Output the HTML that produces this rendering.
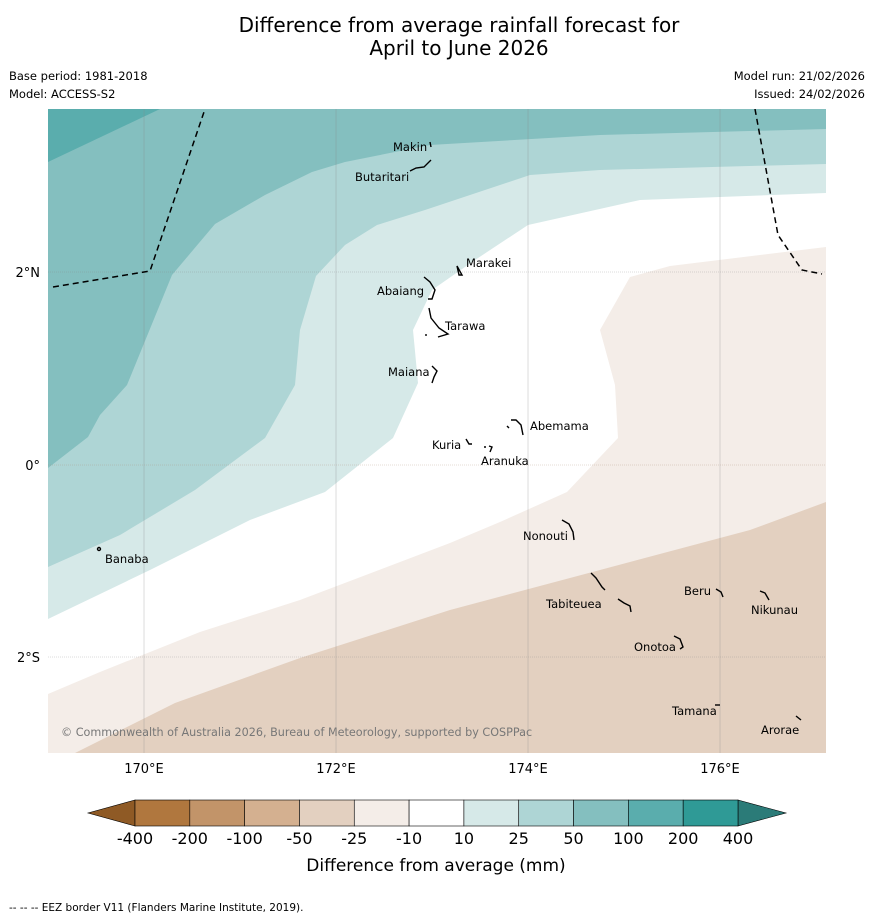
<!DOCTYPE html>
<html><head><meta charset="utf-8"><style>
body{margin:0;background:#fff;width:873px;height:919px;overflow:hidden;font-family:"DejaVu Sans","Liberation Sans",sans-serif}
svg text{font-family:"DejaVu Sans","Liberation Sans",sans-serif}
</style></head><body>
<svg id="s" width="873" height="919">
<text x="459" y="32" font-size="20" text-anchor="middle">Difference from average rainfall forecast for</text>
<text x="459" y="55" font-size="20" text-anchor="middle">April to June 2026</text>
<g font-size="11.5">
<text x="9" y="80">Base period: 1981-2018</text>
<text x="9" y="98">Model: ACCESS-S2</text>
<text x="865" y="80" text-anchor="end">Model run: 21/02/2026</text>
<text x="865" y="98" text-anchor="end">Issued: 24/02/2026</text>
</g>
<defs><clipPath id="mc"><rect x="48" y="109" width="778" height="644"/></clipPath></defs>
<g clip-path="url(#mc)">
<rect x="48" y="109" width="778" height="644" fill="#e3d0c0"/>
<polygon fill="#f4ede8" points="0,109 900,109 900,480 826,502 750,530 600,570 450,610 300,658 175,703 75,753 0,800"/>
<polygon fill="#ffffff" points="0,109 900,109 900,245 826,247 670,266 630,277 600,330 615,385 618,438 567,492 500,522 450,543 300,600 200,632 100,672 48,694 0,712"/>
<polygon fill="#d6e9e8" points="0,109 900,109 900,192 826,193 640,200 528,225 475,260 432,290 413,330 418,383 393,438 325,492 250,520 150,570 48,619 0,640"/>
<polygon fill="#aed5d5" points="0,109 900,109 900,163 826,164 600,170 530,175 425,210 377,225 345,245 316,276 300,330 295,385 265,438 195,490 120,535 48,567 0,590"/>
<polygon fill="#84bfbf" points="0,109 900,109 900,128 826,129 600,135 430,145 345,162 312,172 265,195 215,224 172,275 127,385 100,415 88,437 48,468 0,500"/>
<polygon fill="#5aadad" points="0,109 160,109 48,162 0,185"/>
<g stroke="#888" stroke-width="0.5" opacity="0.6">
<line x1="144" y1="109" x2="144" y2="753"/><line x1="336" y1="109" x2="336" y2="753"/><line x1="528" y1="109" x2="528" y2="753"/><line x1="720" y1="109" x2="720" y2="753"/>
<line x1="48" y1="272" x2="826" y2="272" stroke-dasharray="1,1"/><line x1="48" y1="465" x2="826" y2="465" stroke-dasharray="1,1" stroke="#a87"/><line x1="48" y1="657" x2="826" y2="657" stroke-dasharray="1,1"/>
</g>
<g fill="none" stroke="#000" stroke-width="1.5" stroke-dasharray="6,4">
<polyline points="53,287 150,271 205,109"/><polyline points="755,109 778,235 802,270 822,274"/>
</g>
<g fill="none" stroke="#000" stroke-width="1.4">
<path d="M430,142 l1,5"/><path d="M410,171 l6,-3 l8,-1 l7,-7"/><path d="M457,266 l2,9 l3,0 z"/>
<path d="M424,277 l6,5 l5,8 l-3,9 l-4,0"/><path d="M429,308 l2,10 l8,10 l9,6 l-10,3"/><path d="M425,335 l2,0"/>
<path d="M432,366 l5,5 l-3,6 l-2,6"/><path d="M511,420 l5,0 l5,5 l2,10"/><path d="M507,426 l2,2"/><path d="M466,439 l3,5 l3,0"/><path d="M484,447 l2,0 m3,-1 l3,1 l-2,5"/>
<path d="M562,520 l7,4 l4,8 l1,8"/><path d="M591,573 l5,5 l6,9 l3,3 m13,9 l6,4 l6,3 l1,6"/><path d="M716,589 l5,3 l2,5"/><path d="M760,591 l5,2 l4,7"/><path d="M674,636 l6,3 l3,8 l-3,2"/><path d="M715,705 l5,0"/><path d="M796,716 l5,4"/>
<circle cx="99" cy="549" r="1.5"/>
</g>
<g font-size="11.5" fill="#000">
<text x="393" y="151">Makin</text><text x="355" y="181">Butaritari</text><text x="466" y="267">Marakei</text><text x="377" y="295">Abaiang</text><text x="445" y="330">Tarawa</text><text x="388" y="376">Maiana</text><text x="530" y="430">Abemama</text><text x="432" y="449">Kuria</text><text x="481" y="465">Aranuka</text><text x="523" y="540">Nonouti</text><text x="105" y="563">Banaba</text><text x="684" y="595">Beru</text><text x="546" y="608">Tabiteuea</text><text x="751" y="614">Nikunau</text><text x="634" y="651">Onotoa</text><text x="672" y="715">Tamana</text><text x="761" y="734">Arorae</text>
</g>
<text x="61" y="736" font-size="11.2" fill="#777">© Commonwealth of Australia 2026, Bureau of Meteorology, supported by COSPPac</text>
</g>
<g font-size="13" text-anchor="middle">
<text x="144" y="773">170°E</text><text x="336" y="773">172°E</text><text x="528" y="773">174°E</text><text x="720" y="773">176°E</text>
</g>
<g font-size="13" text-anchor="end">
<text x="40" y="277">2°N</text><text x="40" y="470">0°</text><text x="40" y="662">2°S</text>
</g>
<g id="cb"></g>
<text x="436" y="871" font-size="17" text-anchor="middle">Difference from average (mm)</text>
<text x="9" y="911" font-size="10.5">-- -- -- EEZ border V11 (Flanders Marine Institute, 2019).</text>
</svg>
<script>
const levels=["-400","-200","-100","-50","-25","-10","10","25","50","100","200","400"];
const binColors=["#b0773e","#c29469","#d4b090","#e3d0c0","#f4ede8","#ffffff","#d6e9e8","#aed5d5","#84bfbf","#5aadad","#2f9a96"];
const NS="http://www.w3.org/2000/svg";
const cb=document.getElementById('cb');
const x0=135,x1=738,y0=800,h=26;
const bw=(x1-x0)/binColors.length;
function mk(t,a){const e=document.createElementNS(NS,t);for(const k in a)e.setAttribute(k,a[k]);cb.appendChild(e);return e;}
let l=mk('polygon',{points:`${x0},${y0} ${x0},${y0+h} 88,${y0+h/2}`,fill:'#8f5a25',stroke:'#000','stroke-width':0.6});


let r=mk('polygon',{points:`${x1},${y0} ${x1},${y0+h} 786,${y0+h/2}`,fill:'#2b7b78',stroke:'#000','stroke-width':0.6});


binColors.forEach((c,i)=>{
 const e=mk('rect',{x:x0+i*bw,y:y0,width:bw,height:h,fill:c,stroke:'#000','stroke-width':0.6});
 
 
});
levels.forEach((v,i)=>{
 const t=mk('text',{x:x0+i*bw,y:844,'font-size':16,'text-anchor':'middle'});
 t.textContent=v;
 
 
});
</script>
</body></html>
